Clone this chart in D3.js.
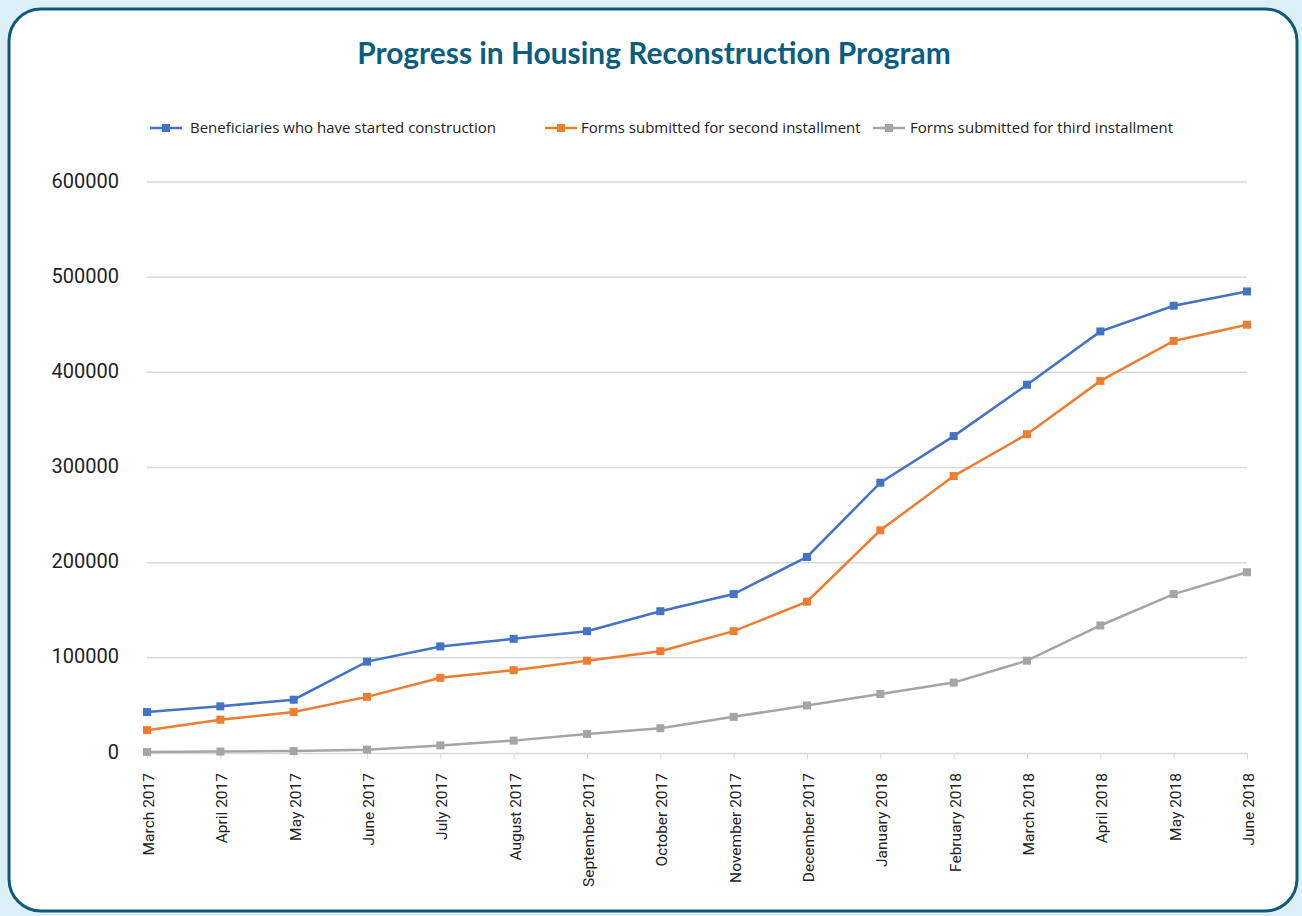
<!DOCTYPE html>
<meta charset="utf-8">
<style>
body { margin: 0; background: #ddf0fa; }
svg { display: block; }
.title { font-family: Lato, "Open Sans", sans-serif; font-weight: 700; font-size: 29.9px; fill: #0b5d80; }
.legend text { font-family: "Open Sans", sans-serif; font-size: 15px; fill: #222; }
.y-axis text { font-family: Roboto, sans-serif; font-size: 20px; fill: #222; }
.x-axis text { font-family: Roboto, sans-serif; font-size: 15.5px; fill: #222; }
.grid line { stroke: #d9d9d9; stroke-width: 1.5; }
</style>
<body>
<svg width="1302" height="916"></svg>
<script src="https://cdn.jsdelivr.net/npm/d3@7/dist/d3.min.js"></script>
<script>

var months = ["March 2017", "April 2017", "May 2017", "June 2017", "July 2017", "August 2017",
  "September 2017", "October 2017", "November 2017", "December 2017", "January 2018",
  "February 2018", "March 2018", "April 2018", "May 2018", "June 2018"];

var started = [43000, 49000, 56000, 96000, 112000, 120000, 128000, 149000, 167000, 206000,
  284000, 333000, 387000, 443000, 470000, 485000];
var secondInst = [24000, 35000, 43000, 59000, 79000, 87000, 97000, 107000, 128000, 159000,
  234000, 291000, 335000, 391000, 433000, 450000];
var thirdInst = [1000, 1500, 2000, 3500, 8000, 13000, 20000, 26000, 38000, 50000,
  62000, 74000, 97000, 134000, 167000, 190000];

var yTicks = [0, 100000, 200000, 300000, 400000, 500000, 600000];

var seriesNames = ["Beneficiaries who have started construction",
  "Forms submitted for second installment", "Forms submitted for third installment"];
var colors = ["#4472c4", "#ed7d31", "#a5a5a5"];
var series = [started, secondInst, thirdInst];

var svg = d3.select("svg");

// card background with rounded border
svg.append("rect")
    .attr("x", 9).attr("y", 9)
    .attr("width", 1288).attr("height", 902)
    .attr("rx", 32).attr("ry", 32)
    .attr("fill", "#fff")
    .attr("stroke", "#0d5a7d")
    .attr("stroke-width", 3);

svg.append("text")
    .attr("class", "title")
    .attr("x", 654).attr("y", 64)
    .attr("text-anchor", "middle")
    .text("Progress in Housing Reconstruction Program");

var x = d3.scalePoint()
    .domain(months)
    .range([147, 1247]);

var y = d3.scaleLinear()
    .domain([0, 600000])
    .range([753, 182]);

// gridlines
svg.append("g")
    .attr("class", "grid")
  .selectAll("line")
  .data(yTicks.slice(1))
  .enter().append("line")
    .attr("x1", 147).attr("x2", 1247)
    .attr("y1", function(d) { return y(d); })
    .attr("y2", function(d) { return y(d); });

// y labels
var yAxis = svg.append("g")
    .attr("class", "y-axis")
    .attr("transform", "translate(119,0)")
    .call(d3.axisLeft(y).tickValues(yTicks).tickSize(0).tickPadding(0).tickFormat(d3.format("d")));
yAxis.select(".domain").remove();
yAxis.selectAll("text").attr("dy", "0.25em");

// x axis
var xAxis = svg.append("g")
    .attr("class", "x-axis")
    .attr("transform", "translate(0,753)")
    .call(d3.axisBottom(x).tickSize(6).tickSizeOuter(0));
xAxis.select(".domain").attr("stroke", "#d9d9d9").attr("stroke-width", 1.5);
xAxis.selectAll(".tick line").attr("stroke", "#d9d9d9");
xAxis.selectAll("text")
    .attr("transform", "rotate(-90)")
    .attr("text-anchor", "end")
    .attr("x", -20)
    .attr("y", 1)
    .attr("dy", "0.35em");

var line = d3.line()
    .x(function(d, i) { return x(months[i]); })
    .y(function(d) { return y(d); });

series.forEach(function(s, k) {
  var g = svg.append("g");
  g.append("path")
      .datum(s)
      .attr("fill", "none")
      .attr("stroke", colors[k])
      .attr("stroke-width", 2.5)
      .attr("d", line);
  g.selectAll("rect")
    .data(s)
    .enter().append("rect")
      .attr("x", function(d, i) { return x(months[i]) - 4; })
      .attr("y", function(d) { return y(d) - 4; })
      .attr("width", 8).attr("height", 8)
      .attr("fill", colors[k]);
});

// legend
var legendX = [150, 545, 873];
var legendTextX = [190, 581, 910];
var legend = svg.append("g").attr("class", "legend");
seriesNames.forEach(function(name, k) {
  var lg = legend.append("g").attr("transform", "translate(" + legendX[k] + ",128)");
  lg.append("line")
      .attr("x1", 0).attr("x2", 32)
      .attr("stroke", colors[k]).attr("stroke-width", 2.5);
  lg.append("rect")
      .attr("x", 12).attr("y", -4)
      .attr("width", 8).attr("height", 8)
      .attr("fill", colors[k]);
  lg.append("text")
      .attr("x", legendTextX[k] - legendX[k]).attr("y", 0)
      .attr("dy", "0.35em")
      .text(name);
});

</script>
</body>
